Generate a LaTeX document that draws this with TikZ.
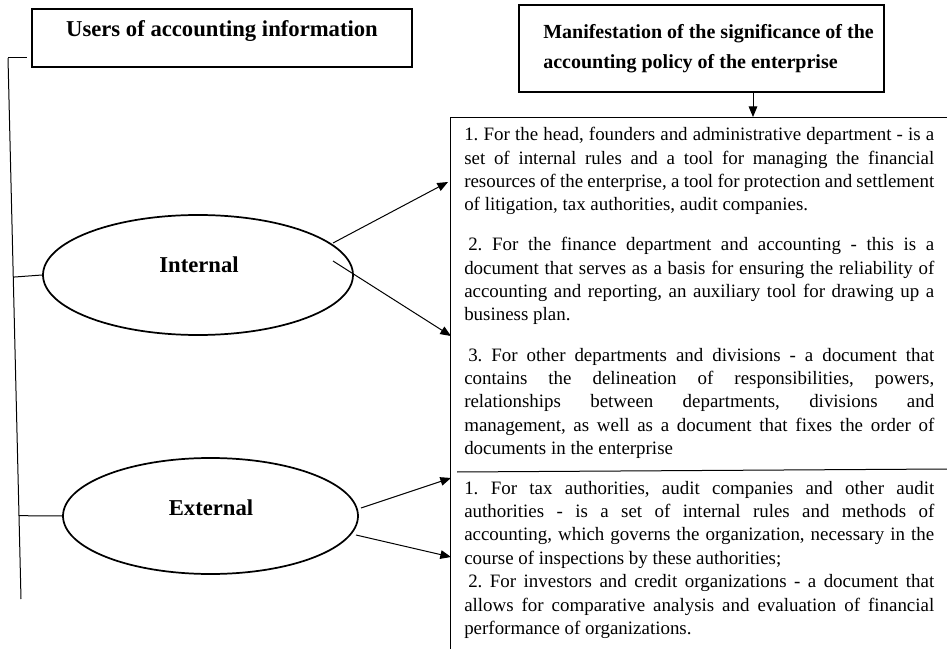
\documentclass[tikz,border=0pt]{standalone}
\usepackage{fontspec}
\setmainfont{Liberation Serif}
\usetikzlibrary{shapes.geometric,arrows.meta,calc}
\frenchspacing
\newcommand{\jline}[1]{\makebox[\linewidth][s]{#1}\\}
\newcommand{\bodyfont}{\fontsize{14.2pt}{17.5pt}\selectfont}
\newcommand{\hdrfont}{\fontsize{17pt}{22pt}\selectfont\bfseries}
\newcommand{\manifont}{\fontsize{15pt}{22pt}\selectfont\bfseries}
\begin{document}
\begin{tikzpicture}[x=0.75pt,y=-0.75pt,
  frame/.style={draw, line width=0.9pt, inner sep=0pt},
  oval/.style={draw, ellipse, line width=1.3pt, inner sep=0pt},
  hdr/.style={inner sep=0pt, font=\hdrfont},
  para/.style={anchor=base west, inner sep=0pt, font=\bodyfont},
  conn/.style={line width=0.75pt},
  arr/.style={line width=0.75pt, -{Triangle[length=8pt,width=6.5pt]}}]
\useasboundingbox (0,0) rectangle (947,649);

% header boxes
\node[frame, minimum width=285pt, minimum height=43.5pt] (users) at (222,38) {};
\node[hdr, anchor=base] (userst) at (222,37) {Users of accounting information};
\node[frame, minimum width=273.75pt, minimum height=65.25pt] (mani) at (701.5,48.5) {};
\node[hdr, anchor=base west] (manit) at (543,39) {\parbox[t]{300pt}{\manifont Manifestation of the significance of the\\ accounting policy of the enterprise}};

% ellipses
\node[oval, minimum width=232.5pt, minimum height=90pt] (int) at (198,275) {};
\node[hdr, anchor=base] (intt) at (199,273) {Internal};
\node[oval, minimum width=221.25pt, minimum height=87pt] (ext) at (210.5,516) {};
\node[hdr, anchor=base] (extt) at (211,515) {External};

% left bracket
\coordinate (vt) at (8,58);
\coordinate (vb) at (21,599);
\draw[conn] (vt) -- (vb);
\draw[conn] (vt) -- ++(19,0);
\draw[conn] ($(vt)!0.405!(vb)$) -- (int.west);
\draw[conn] ($(vt)!0.846!(vb)$) -- (ext.west);

% right frame
\coordinate (rtl) at (450,118);
\coordinate (rtr) at (947,118);
\coordinate (rbl) at (450,649);
\draw[conn] (rtr) -- (rtl) -- (rbl);
\coordinate (s1) at (457,472);
\coordinate (s2) at (947,469);
\draw[conn] (s1) -- (s2);

% down arrow
\coordinate (dtip) at (753,117);
\draw[arr] (mani.south -| dtip) -- (dtip);

% paragraphs
\node[para] (p1) at (464,141) {\parbox[t]{352.5pt}{\bodyfont
\jline{1. For the head, founders and administrative department - is a}
\jline{set of internal rules and a tool for managing the financial}
\jline{resources of the enterprise, a tool for protection and settlement}
of litigation, tax authorities, audit companies.}};

\node[para] (p2) at (464,251) {\parbox[t]{352.5pt}{\bodyfont
\jline{\hspace*{3pt}2. For the finance department and accounting - this is a}
\jline{document that serves as a basis for ensuring the reliability of}
\jline{accounting and reporting, an auxiliary tool for drawing up a}
business plan.}};

\node[para] (p3) at (464,361) {\parbox[t]{352.5pt}{\bodyfont
\jline{\hspace*{3pt}3. For other departments and divisions - a document that}
\jline{contains the delineation of responsibilities, powers,}
\jline{relationships between departments, divisions and}
\jline{management, as well as a document that fixes the order of}
documents in the enterprise}};

\node[para] (e1) at (464,494.3) {\parbox[t]{352.5pt}{\bodyfont
\jline{1. For tax authorities, audit companies and other audit}
\jline{authorities - is a set of internal rules and methods of}
\jline{accounting, which governs the organization, necessary in the}
course of inspections by these authorities;}};

\node[para] (e2) at (464,587.7) {\parbox[t]{352.5pt}{\bodyfont
\jline{\hspace*{3pt}2. For investors and credit organizations - a document that}
\jline{allows for comparative analysis and evaluation of financial}
performance of organizations.}};

% arrows from ellipses
\coordinate (a1s) at (333,243);
\coordinate (a1e) at (448,182);
\coordinate (a2s) at (333,261);
\coordinate (a2e) at (451,336);
\coordinate (a3s) at (361,508);
\coordinate (a3e) at (451,478);
\coordinate (a4s) at (356,535);
\coordinate (a4e) at (451,557);
\draw[arr] (a1s) -- (a1e);
\draw[arr] (a2s) -- (a2e);
\draw[arr] (a3s) -- (a3e);
\draw[arr] (a4s) -- (a4e);
\end{tikzpicture}
\end{document}
